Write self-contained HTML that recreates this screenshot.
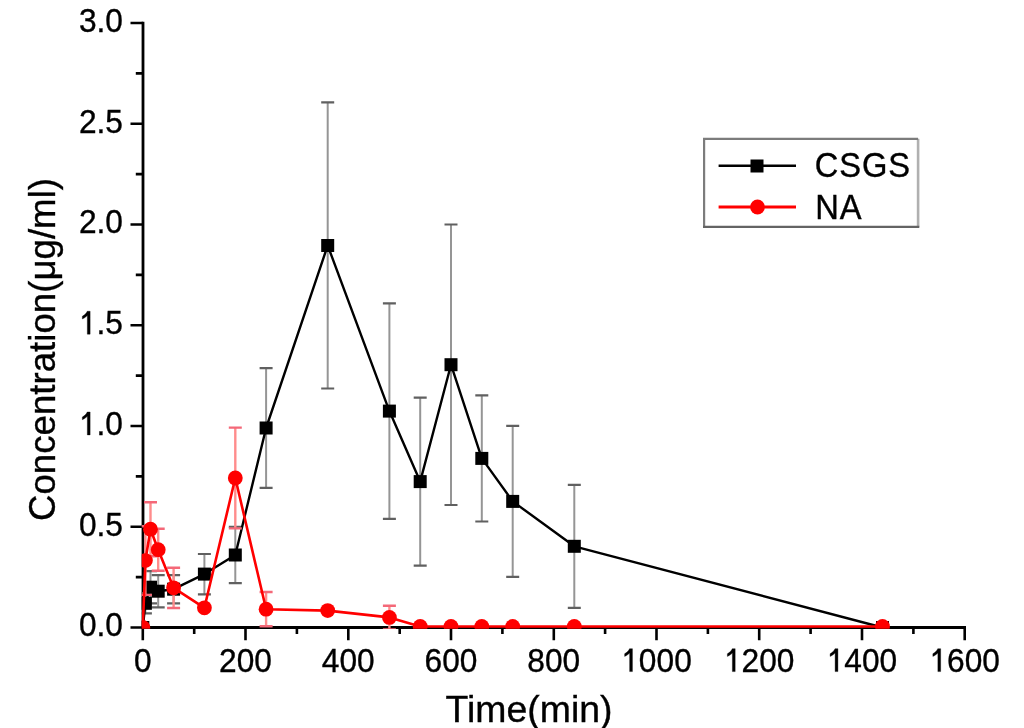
<!DOCTYPE html><html><head><meta charset="utf-8"><style>html,body{margin:0;padding:0;background:#fff;width:1024px;height:728px;overflow:hidden}svg{display:block;filter:blur(0.45px)}text{stroke:#000;stroke-width:0.35px}</style></head><body>
<svg width="1024" height="728" viewBox="0 0 1024 728" font-family='"Liberation Sans", sans-serif'>
<rect width="1024" height="728" fill="#fff"/>
<defs><clipPath id="c"><rect x="141.7" y="0" width="830" height="628.8"/></clipPath></defs>
<path d="M143 21.8V627.5H966" stroke="#000" stroke-width="2.8" fill="none"/>
<path d="M130.5 627.5H143.0M135.8 577.1H143.0M130.5 526.8H143.0M135.8 476.4H143.0M130.5 426.0H143.0M135.8 375.6H143.0M130.5 325.2H143.0M135.8 274.9H143.0M130.5 224.5H143.0M135.8 174.1H143.0M130.5 123.8H143.0M135.8 73.4H143.0M130.5 23.0H143.0M142.8 627.5V640.2M194.2 627.5V634.0M245.5 627.5V640.2M296.9 627.5V634.0M348.3 627.5V640.2M399.7 627.5V634.0M451.0 627.5V640.2M502.4 627.5V634.0M553.8 627.5V640.2M605.1 627.5V634.0M656.5 627.5V640.2M707.9 627.5V634.0M759.2 627.5V640.2M810.6 627.5V634.0M862.0 627.5V640.2M913.4 627.5V634.0M964.7 627.5V640.2" stroke="#000" stroke-width="2.6" fill="none"/>
<g clip-path="url(#c)">
<path d="M145.4 593.2V613.4M150.5 571.1V603.3M158.2 575.1V607.4M173.6 575.1V603.3M204.4 554.0V594.3M235.3 526.8V583.2M266.1 368.2V487.9M327.7 102.4V388.5M389.4 303.3V518.9M420.2 397.6V565.6M451.0 224.5V505.0M481.8 395.4V521.5M512.7 425.8V576.9M574.3 484.8V607.8" stroke="#959595" stroke-width="2.0" fill="none"/><path d="M138.9 593.2H151.9M138.9 613.4H151.9M144.0 571.1H157.0M144.0 603.3H157.0M151.7 575.1H164.7M151.7 607.4H164.7M167.1 575.1H180.1M167.1 603.3H180.1M197.9 554.0H210.9M197.9 594.3H210.9M228.8 526.8H241.8M228.8 583.2H241.8M259.6 368.2H272.6M259.6 487.9H272.6M321.2 102.4H334.2M321.2 388.5H334.2M382.9 303.3H395.9M382.9 518.9H395.9M413.7 397.6H426.7M413.7 565.6H426.7M444.5 224.5H457.5M444.5 505.0H457.5M475.3 395.4H488.3M475.3 521.5H488.3M506.2 425.8H519.2M506.2 576.9H519.2M567.8 484.8H580.8M567.8 607.8H580.8" stroke="#606060" stroke-width="2.2" fill="none"/>
<polyline points="142.8,627.5 145.4,603.3 150.5,587.2 158.2,591.2 173.6,589.2 204.4,574.1 235.3,555.0 266.1,428.0 327.7,245.5 389.4,411.1 420.2,481.6 451.0,364.7 481.8,458.4 512.7,501.4 574.3,546.3 882.5,627.5" stroke="#000" stroke-width="2.4" fill="none" stroke-linejoin="round"/>
<rect x="136.3" y="621.0" width="13" height="13" fill="#000"/>
<rect x="138.9" y="596.8" width="13" height="13" fill="#000"/>
<rect x="144.0" y="580.7" width="13" height="13" fill="#000"/>
<rect x="151.7" y="584.7" width="13" height="13" fill="#000"/>
<rect x="167.1" y="582.7" width="13" height="13" fill="#000"/>
<rect x="197.9" y="567.6" width="13" height="13" fill="#000"/>
<rect x="228.8" y="548.5" width="13" height="13" fill="#000"/>
<rect x="259.6" y="421.5" width="13" height="13" fill="#000"/>
<rect x="321.2" y="239.0" width="13" height="13" fill="#000"/>
<rect x="382.9" y="404.6" width="13" height="13" fill="#000"/>
<rect x="413.7" y="475.1" width="13" height="13" fill="#000"/>
<rect x="444.5" y="358.2" width="13" height="13" fill="#000"/>
<rect x="475.3" y="451.9" width="13" height="13" fill="#000"/>
<rect x="506.2" y="494.9" width="13" height="13" fill="#000"/>
<rect x="567.8" y="539.8" width="13" height="13" fill="#000"/>
<rect x="876.0" y="621.0" width="13" height="13" fill="#000"/>
<path d="M145.4 526.3V594.9M150.5 502.2V556.2M158.2 528.8V570.7M173.6 567.7V608.0M235.3 427.6V528.4M266.1 592.0V626.3M389.4 605.7V629.1" stroke="#ff8c8c" stroke-width="2.4" fill="none"/><path d="M138.9 526.3H151.9M138.9 594.9H151.9M144.0 502.2H157.0M144.0 556.2H157.0M151.7 528.8H164.7M151.7 570.7H164.7M167.1 567.7H180.1M167.1 608.0H180.1M228.8 427.6H241.8M228.8 528.4H241.8M259.6 592.0H272.6M259.6 626.3H272.6M382.9 605.7H395.9M382.9 629.1H395.9" stroke="#f46878" stroke-width="2.4" fill="none"/>
<polyline points="142.8,627.5 145.4,560.6 150.5,529.2 158.2,549.7 173.6,587.8 204.4,607.8 235.3,478.0 266.1,609.2 327.7,610.6 389.4,617.4 420.2,626.5 451.0,626.5 481.8,626.5 512.7,626.5 574.3,626.5 882.5,626.5" stroke="#ff0000" stroke-width="2.6" fill="none" stroke-linejoin="round"/>
<circle cx="142.8" cy="627.5" r="7.4" fill="#ff0000"/>
<circle cx="145.4" cy="560.6" r="7.4" fill="#ff0000"/>
<circle cx="150.5" cy="529.2" r="7.4" fill="#ff0000"/>
<circle cx="158.2" cy="549.7" r="7.4" fill="#ff0000"/>
<circle cx="173.6" cy="587.8" r="7.4" fill="#ff0000"/>
<circle cx="204.4" cy="607.8" r="7.4" fill="#ff0000"/>
<circle cx="235.3" cy="478.0" r="7.4" fill="#ff0000"/>
<circle cx="266.1" cy="609.2" r="7.4" fill="#ff0000"/>
<circle cx="327.7" cy="610.6" r="7.4" fill="#ff0000"/>
<circle cx="389.4" cy="617.4" r="7.4" fill="#ff0000"/>
<circle cx="420.2" cy="626.5" r="7.4" fill="#ff0000"/>
<circle cx="451.0" cy="626.5" r="7.4" fill="#ff0000"/>
<circle cx="481.8" cy="626.5" r="7.4" fill="#ff0000"/>
<circle cx="512.7" cy="626.5" r="7.4" fill="#ff0000"/>
<circle cx="574.3" cy="626.5" r="7.4" fill="#ff0000"/>
<circle cx="882.5" cy="626.5" r="7.4" fill="#ff0000"/>
</g>
<g transform="translate(78.93,636.40) scale(1,1.050)"><text x="0" y="0" font-size="31.7">0.0</text>
</g>
<g transform="translate(78.93,535.65) scale(1,1.050)"><text x="0" y="0" font-size="31.7">0.5</text>
</g>
<g transform="translate(78.93,434.90) scale(1,1.050)"><text x="0" y="0" font-size="31.7"> .0</text>
<path transform="translate(0.00,0) scale(0.01548,-0.01548)" stroke="#000" stroke-width="22.6" d="M723 0H543V1140C490 1090 420 1040 340 993C300 970 260 950 220 935V1100C300 1140 370 1192 428 1250C478 1300 512 1352 535 1409H723Z"/>
</g>
<g transform="translate(78.93,334.15) scale(1,1.050)"><text x="0" y="0" font-size="31.7"> .5</text>
<path transform="translate(0.00,0) scale(0.01548,-0.01548)" stroke="#000" stroke-width="22.6" d="M723 0H543V1140C490 1090 420 1040 340 993C300 970 260 950 220 935V1100C300 1140 370 1192 428 1250C478 1300 512 1352 535 1409H723Z"/>
</g>
<g transform="translate(78.93,233.40) scale(1,1.050)"><text x="0" y="0" font-size="31.7">2.0</text>
</g>
<g transform="translate(78.93,132.65) scale(1,1.050)"><text x="0" y="0" font-size="31.7">2.5</text>
</g>
<g transform="translate(78.93,31.90) scale(1,1.050)"><text x="0" y="0" font-size="31.7">3.0</text>
</g>
<g transform="translate(133.98,671.60) scale(1,1.050)"><text x="0" y="0" font-size="31.7">0</text>
</g>
<g transform="translate(219.09,671.60) scale(1,1.050)"><text x="0" y="0" font-size="31.7">200</text>
</g>
<g transform="translate(321.83,671.60) scale(1,1.050)"><text x="0" y="0" font-size="31.7">400</text>
</g>
<g transform="translate(424.57,671.60) scale(1,1.050)"><text x="0" y="0" font-size="31.7">600</text>
</g>
<g transform="translate(527.31,671.60) scale(1,1.050)"><text x="0" y="0" font-size="31.7">800</text>
</g>
<g transform="translate(621.24,671.60) scale(1,1.050)"><text x="0" y="0" font-size="31.7"> 000</text>
<path transform="translate(0.00,0) scale(0.01548,-0.01548)" stroke="#000" stroke-width="22.6" d="M723 0H543V1140C490 1090 420 1040 340 993C300 970 260 950 220 935V1100C300 1140 370 1192 428 1250C478 1300 512 1352 535 1409H723Z"/>
</g>
<g transform="translate(723.98,671.60) scale(1,1.050)"><text x="0" y="0" font-size="31.7"> 200</text>
<path transform="translate(0.00,0) scale(0.01548,-0.01548)" stroke="#000" stroke-width="22.6" d="M723 0H543V1140C490 1090 420 1040 340 993C300 970 260 950 220 935V1100C300 1140 370 1192 428 1250C478 1300 512 1352 535 1409H723Z"/>
</g>
<g transform="translate(826.72,671.60) scale(1,1.050)"><text x="0" y="0" font-size="31.7"> 400</text>
<path transform="translate(0.00,0) scale(0.01548,-0.01548)" stroke="#000" stroke-width="22.6" d="M723 0H543V1140C490 1090 420 1040 340 993C300 970 260 950 220 935V1100C300 1140 370 1192 428 1250C478 1300 512 1352 535 1409H723Z"/>
</g>
<g transform="translate(929.46,671.60) scale(1,1.050)"><text x="0" y="0" font-size="31.7"> 600</text>
<path transform="translate(0.00,0) scale(0.01548,-0.01548)" stroke="#000" stroke-width="22.6" d="M723 0H543V1140C490 1090 420 1040 340 993C300 970 260 950 220 935V1100C300 1140 370 1192 428 1250C478 1300 512 1352 535 1409H723Z"/>
</g>
<text x="445.5" y="722.2" font-size="36" textLength="167" lengthAdjust="spacingAndGlyphs">Time(min)</text>
<text transform="translate(55,521) rotate(-90)" font-size="37" textLength="343" lengthAdjust="spacingAndGlyphs">Concentration(μg/ml)</text>
<rect x="704.1" y="138.8" width="214" height="88" fill="#fff"/>
<path d="M918.1 138.8V226.8" stroke="#b0b0b0" stroke-width="2.6"/>
<path d="M704.1 226.8V138.8H918.1" stroke="#7c7c7c" stroke-width="2.2" fill="none"/>
<path d="M703 226.8H919.3" stroke="#646464" stroke-width="2.2"/>
<path d="M718.6 165.8H796" stroke="#000" stroke-width="2.5"/>
<rect x="750.5" y="159.5" width="13" height="13" fill="#000"/>
<path d="M718.6 207H796" stroke="#ff0000" stroke-width="3"/>
<circle cx="757.5" cy="207" r="7.4" fill="#ff0000"/>
<text transform="translate(814.8,177.4) scale(1,1.065)" font-size="32.7" letter-spacing="0.9">CSGS</text>
<text transform="translate(815.2,218.7) scale(1,1.065)" font-size="32.7" letter-spacing="0.9">NA</text>
</svg></body></html>
